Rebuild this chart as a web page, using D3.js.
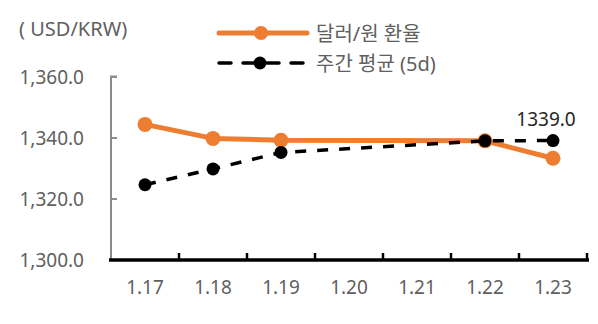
<!DOCTYPE html>
<html><head><meta charset="utf-8">
<script src="https://cdn.jsdelivr.net/npm/d3@7"></script>
<style>body{margin:0;background:#fff}svg{display:block}text{font-family:"Noto Sans","Noto Sans CJK KR",sans-serif}</style>
</head><body>
<svg id="c" width="598" height="324"></svg>
<script>
const categories = ["1.17","1.18","1.19","1.20","1.21","1.22","1.23"];
const rateValues = [1344.3, 1339.7, 1339.1, null, null, 1338.9, 1333.2];
const avgValues  = [1324.5, 1329.7, 1335.1, null, null, 1338.9, 1339.0];
const yTicks = [1300, 1320, 1340, 1360];
const seriesNames = ["달러/원 환율", "주간 평균 (5d)"];
const unitLabel = "( USD/KRW)";
const lastLabel = "1339.0";

const svg = d3.select("#c");
const x = d3.scaleBand().domain(categories).range([111, 587]);
const y = d3.scaleLinear().domain([1300, 1360]).range([259.5, 76.5]);
const cx = d => x(d) + x.bandwidth()/2;
const txtCol = "#606060";

// y axis
const yAxis = svg.append("g").attr("transform","translate(111,0)")
  .call(d3.axisRight(y).tickValues(yTicks).tickSize(6).tickFormat(""));
yAxis.select(".domain").attr("stroke","#8c8c8c").attr("stroke-width",2).attr("d","M6,76.5H0V259.5");
yAxis.selectAll(".tick line").attr("stroke","#8c8c8c").attr("stroke-width",2);
svg.append("g").selectAll("text").data(yTicks).join("text")
  .attr("x",84).attr("y",d=>y(d)+7).attr("text-anchor","end")
  .attr("font-size",19).attr("fill",txtCol).text(d=>d3.format(",.1f")(d));

// x axis
const xAxis = svg.append("g").attr("transform","translate(0,260)")
  .call(d3.axisTop(x).tickSize(0).tickFormat(""));
xAxis.select(".domain").attr("stroke","#000").attr("stroke-width",3.5).attr("d","M109,0H589");
xAxis.selectAll(".tick").remove();
svg.append("g").selectAll("line").data(categories).join("line")
  .attr("x1",(d,i)=>x(d) + x.bandwidth()).attr("x2",(d,i)=>x(d) + x.bandwidth())
  .attr("y1",260).attr("y2",253).attr("stroke","#000").attr("stroke-width",2.5);
svg.append("g").selectAll("text").data(categories).join("text")
  .attr("x",d=>cx(d)).attr("y",294).attr("text-anchor","middle")
  .attr("font-size",19).attr("fill",txtCol).text(d=>d);

svg.append("text").attr("x",19).attr("y",36).attr("font-size",20).attr("fill",txtCol)
  .attr("xml:space","preserve").style("white-space","pre").text(unitLabel);

// series
const rate = categories.map((c,i)=>({c,v:rateValues[i]})).filter(d=>d.v!=null);
const avg = categories.map((c,i)=>({c,v:avgValues[i]})).filter(d=>d.v!=null);
const line = d3.line().x(d=>cx(d.c)).y(d=>y(d.v));
const orange = "#ED7D31";

svg.append("path").datum(rate).attr("d",line).attr("fill","none").attr("stroke",orange)
  .attr("stroke-width",5).attr("stroke-linejoin","round");
svg.append("g").selectAll("circle").data(rate).join("circle")
  .attr("cx",d=>cx(d.c)).attr("cy",d=>y(d.v)).attr("r",7.5).attr("fill",orange);

svg.append("path").datum(avg).attr("d",line).attr("fill","none").attr("stroke","#000")
  .attr("stroke-width",3.5).attr("stroke-dasharray","11,11");
svg.append("g").selectAll("circle").data(avg).join("circle")
  .attr("cx",d=>cx(d.c)).attr("cy",d=>y(d.v)).attr("r",6.5).attr("fill","#000");

const last = avg[avg.length-1];
svg.append("text").attr("x",cx(last.c)-7).attr("y",y(last.v)-15).attr("text-anchor","middle")
  .attr("font-size",19).attr("fill","#262626").text(lastLabel);

// legend
const lg = svg.append("g");
lg.append("line").attr("x1",219).attr("x2",307).attr("y1",33).attr("y2",33)
  .attr("stroke",orange).attr("stroke-width",5).attr("stroke-linecap","round");
lg.append("circle").attr("cx",261).attr("cy",33).attr("r",7).attr("fill",orange);
lg.append("line").attr("x1",219).attr("x2",303).attr("y1",63).attr("y2",63)
  .attr("stroke","#000").attr("stroke-width",3.5).attr("stroke-dasharray","12,12").attr("stroke-linecap","round");
lg.append("circle").attr("cx",260).attr("cy",63).attr("r",6.5).attr("fill","#000");
lg.selectAll("text").data(seriesNames).join("text")
  .attr("x",316).attr("y",(d,i)=>41+i*30).attr("font-size",20).attr("fill",txtCol).text(d=>d);
</script>
</body></html>
